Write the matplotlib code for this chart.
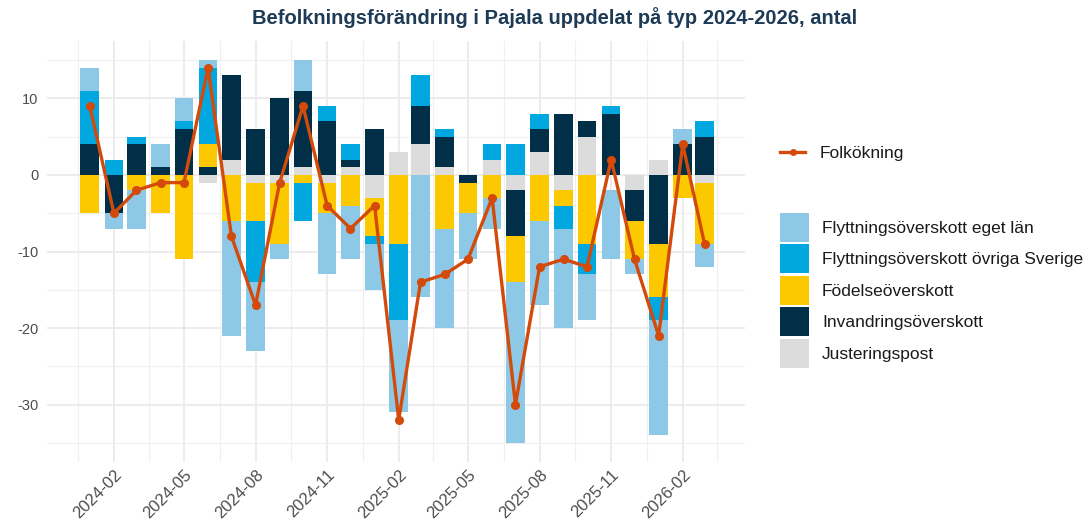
import numpy as np
import pandas as pd
import matplotlib
matplotlib.use("Agg")
import matplotlib.pyplot as plt
import matplotlib.dates as mdates
from matplotlib.lines import Line2D
from matplotlib.patches import Patch

plt.rcParams['font.family'] = ['Liberation Sans', 'DejaVu Sans']
plt.rcParams['axes.unicode_minus'] = False

# monthly data 2024-01 .. 2026-03
months = pd.date_range("2024-01-01", periods=27, freq="MS")

eget_lan = [3, -2, -5, 3, 3, 1, -15, -9, -2, 4, -8, -7, -6, -12, -16, -13, -6, -4, -21, -11, -13, -6, -9, -2, -15, 2, -3]
ovriga_sverige = [7, 2, 1, 0, 1, 10, 0, -8, 0, -5, 2, 2, -1, -10, 4, 1, 0, 2, 4, 2, -3, -4, 1, 0, -3, 0, 2]
fodelse = [-5, 0, -2, -5, -11, 3, -6, -5, -8, -1, -4, -4, -5, -9, 0, -7, -4, -3, -6, -6, -2, -9, 0, -5, -7, -3, -8]
invandring = [4, -5, 4, 1, 6, 1, 11, 6, 10, 10, 7, 1, 6, 0, 5, 4, -1, 0, -6, 3, 8, 2, 8, -4, -9, 4, 5]
justering = [0, 0, 0, 0, 0, -1, 2, -1, -1, 1, -1, 1, -3, 3, 4, 1, 0, 2, -2, 3, -2, 5, 0, -2, 2, 0, -1]
tomt = [0] * 22 + [-2] + [0] * 4  # empty slot seen in 2025-11
folkokning = [9, -5, -2, -1, -1, 14, -8, -17, -1, 9, -4, -7, -4, -32, -14, -13, -11, -3, -30, -12, -11, -12, 2, -11, -21, 4, -9]

serier = ["Flyttningsöverskott eget län", "Flyttningsöverskott övriga Sverige",
          "Födelseöverskott", "Invandringsöverskott", "Justeringspost"]
farger = ["#8DC8E6", "#00A8DF", "#FCC900", "#002F47", "#DCDCDC"]

fig = plt.figure(figsize=(10.86, 5.30), dpi=100)
ax = fig.add_axes([47 / 1086, 1 - 462 / 530, (745 - 47) / 1086, (462 - 41) / 530])

# stack from zero outward: justering, invandring, fodelse, ovriga, eget lan
stack = [("", tomt, None), (serier[4], justering, farger[4]), (serier[3], invandring, farger[3]),
         (serier[2], fodelse, farger[2]), (serier[1], ovriga_sverige, farger[1]),
         (serier[0], eget_lan, farger[0])]
pos = np.zeros(len(months))
neg = np.zeros(len(months))
for namn, vals, col in stack:
    v = np.array(vals, dtype=float)
    p = np.where(v > 0, v, 0)
    n = np.where(v < 0, v, 0)
    if col is None:
        neg += n
        continue
    ax.bar(months, p, bottom=pos, width=24, color=col, linewidth=0, zorder=2)
    ax.bar(months, n, bottom=neg, width=24, color=col, linewidth=0, zorder=2)
    pos += p
    neg += n

ax.plot(months, folkokning, color="#D34A0B", lw=2.4, marker="o", ms=5.5, zorder=3)

# axes / grid
ax.set_xlim(pd.Timestamp("2023-11-07"), pd.Timestamp("2026-04-22"))
ax.set_ylim(-37.5, 17.5)
ax.set_yticks([-30, -20, -10, 0, 10])
ax.set_yticks([-35, -25, -15, -5, 5, 15], minor=True)
major = pd.date_range("2023-11-01", "2026-05-01", freq="3MS")
majn = mdates.date2num(major)
minn = (majn[:-1] + majn[1:]) / 2
ax.set_xticks(majn[1:-1])
ax.set_xticks(minn, minor=True)
ax.xaxis.set_major_formatter(mdates.DateFormatter("%Y-%m"))
ax.grid(True, which="major", color="#EBEBEB", lw=1.3, zorder=0)
ax.grid(True, which="minor", color="#F0F0F0", lw=0.9, zorder=0)
ax.set_axisbelow(True)
for s in ax.spines.values():
    s.set_visible(False)
ax.tick_params(which="both", length=0)
ax.tick_params(axis="y", labelsize=10.5, labelcolor="#4D4D4D", pad=6)
ax.tick_params(axis="x", labelsize=12, labelcolor="#4D4D4D", pad=4)
plt.setp(ax.get_xticklabels(), rotation=45, ha="right", rotation_mode="anchor")

fig.text(555 / 1086, 1 - 18 / 530, "Befolkningsförändring i Pajala uppdelat på typ 2024-2026, antal",
         ha="center", va="center", fontsize=14.5, fontweight="bold", color="#1D3A56")

# legends
linje = Line2D([], [], color="#D34A0B", lw=2.4, marker="o", ms=4)
leg1 = fig.legend(handles=[linje], labels=["Folkökning"], loc="center left",
                  bbox_to_anchor=(780 / 1086, 1 - 153 / 530), frameon=False, fontsize=12.5,
                  handlelength=1.45, handletextpad=0.85, borderpad=0, borderaxespad=0)
patches = [Patch(facecolor=c, edgecolor="none") for c in farger]
leg2 = fig.legend(handles=patches, labels=serier, loc="upper left",
                  bbox_to_anchor=(780 / 1086, 1 - 213 / 530), frameon=False, fontsize=12.5,
                  handlelength=1.67, handleheight=2.19, labelspacing=0.144,
                  handletextpad=0.75, borderpad=0, borderaxespad=0)
for t in leg1.get_texts() + leg2.get_texts():
    t.set_color("#1A1A1A")

fig.savefig("out.png", dpi=100)
